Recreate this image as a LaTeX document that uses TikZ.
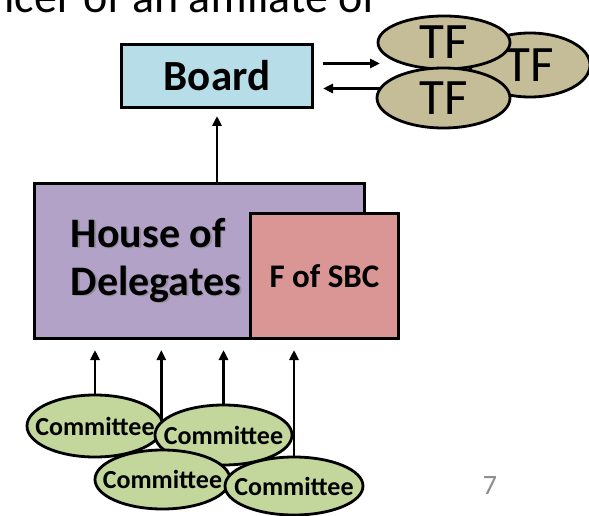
\documentclass[tikz,border=0pt]{standalone}
\usepackage{fontspec}
\setmainfont{Carlito}
\usetikzlibrary{arrows.meta,shapes.geometric,calc}
\definecolor{boardblue}{HTML}{B7DEE8}
\definecolor{hodpurple}{HTML}{B3A2C7}
\definecolor{sbcred}{HTML}{D99694}
\definecolor{tftan}{HTML}{C4BD97}
\definecolor{comgreen}{HTML}{C3D69B}
\definecolor{pagegray}{HTML}{8C8C8C}

\newcommand{\ovaltext}[1]{\makebox[0pt][c]{#1}}

\begin{document}
\begin{tikzpicture}[x=1pt,y=-1pt,
  box/.style={draw=black,line width=3pt,inner sep=0pt,anchor=north west},
  oval/.style={ellipse,draw=black,line width=2.8pt,inner sep=0pt},
  tfoval/.style={oval,fill=tftan,font=\fontsize{51}{51}\selectfont},
  comoval/.style={oval,fill=comgreen,font=\bfseries\fontsize{26}{26}\selectfont},
  arr/.style={line width=2.8pt,-{Triangle[length=10pt,width=9pt]}},
]
\useasboundingbox (0,0) rectangle (589,516);
\clip (0,0) rectangle (589,516);
\fill[white] (0,0) rectangle (589,516);

% slide line running off the top edge
\node[anchor=base west,font=\fontsize{46}{46}\selectfont,inner sep=0pt] (caption) at (4,13) {icer of an affiliate of};

% board and its task forces
\node[box,fill=boardblue,minimum width=191pt,minimum height=63pt,
      font=\bfseries\fontsize{43}{43}\selectfont] (board) at (120,43) {Board};

\node[tfoval,minimum width=120pt,minimum height=64pt] (tfright) at (530,65) {\ovaltext{TF}};
\node[tfoval,minimum width=132pt,minimum height=53pt] (tftop) at (444,42.5) {\ovaltext{TF}};
\node[tfoval,minimum width=133pt,minimum height=60pt] (tfbottom) at (443.5,98) {\ovaltext{TF}};

\draw[arr] ([shift={(9,-12.5)}]board.east) -- ++(57,0);
\draw[arr] ([shift={(66,12.5)}]board.east) -- ++(-57,0);

% house of delegates with the foundation box
\node[box,fill=hodpurple,minimum width=330pt,minimum height=155pt] (hod) at (33,182) {};
\node[anchor=base west,align=left,inner sep=0pt,text=gray,opacity=0.55,
      font=\bfseries\fontsize{42}{48}\selectfont] (hodshadow) at (72,296.5) {House of\\Delegates};
\node[anchor=base west,align=left,inner sep=0pt,
      font=\bfseries\fontsize{42}{48}\selectfont] (hodtext) at (70.5,295) {House of\\Delegates};
\node[box,fill=sbcred,minimum width=148pt,minimum height=125pt,
      font=\bfseries\fontsize{33}{33}\selectfont] (sbc) at (249,212) {\raisebox{-4pt}{F of SBC}};

\draw[arr,shorten >=7pt] (board.south |- hod.north) -- (board.south);

% committees
\node[comoval,minimum width=136pt,minimum height=62pt] (c1) at (95,426) {\ovaltext{Committee}};
\node[comoval,minimum width=137pt,minimum height=60pt] (c2) at (223.5,435) {\ovaltext{Committee}};
\node[comoval,minimum width=135pt,minimum height=59pt] (c3) at (162.5,479.5) {\ovaltext{Committee}};
\node[comoval,minimum width=138pt,minimum height=58pt] (c4) at (294,486) {\ovaltext{Committee}};

\draw[arr,shorten >=10pt] (c1.north) -- (c1.north |- hod.south);
\draw[arr,shorten >=10pt] (c2.167) -- (c2.167 |- hod.south);
\draw[arr,shorten >=10pt] (c2.north) -- (c2.north |- hod.south);
\draw[arr,shorten >=10pt] (c4.north) -- (c4.north |- hod.south);

% page number
\node[font=\fontsize{28}{28}\selectfont,text=pagegray] (pagenum) at (490,486) {7};
\end{tikzpicture}
\end{document}
